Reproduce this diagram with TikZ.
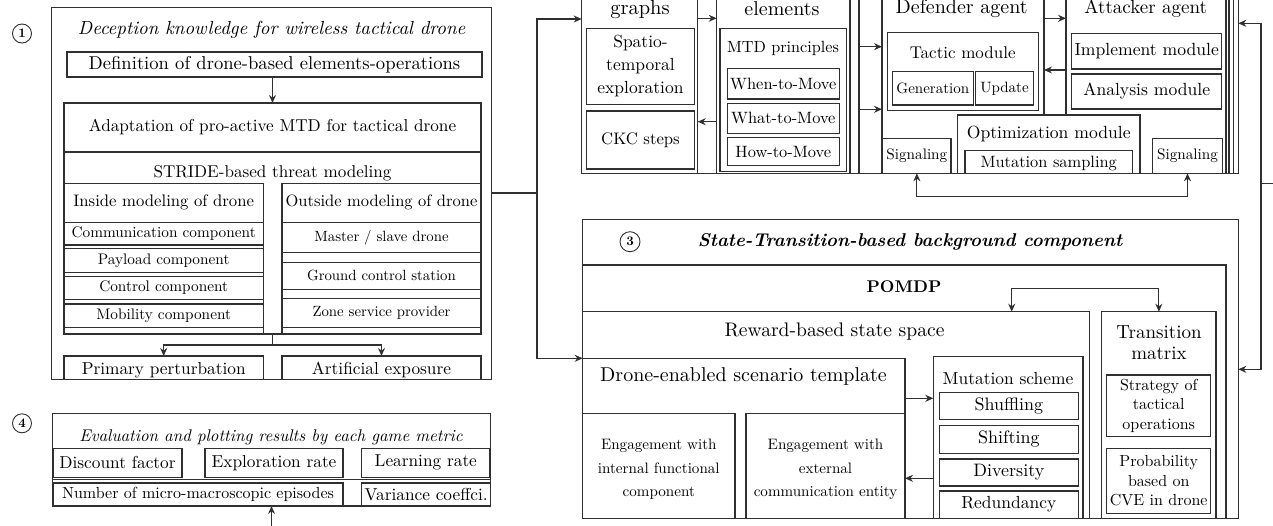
\documentclass[tikz,border=0pt]{standalone}
\usepackage{fontspec}
\setmainfont{lmroman10-regular.otf}[BoldFont=lmroman10-bold.otf, ItalicFont=lmroman10-italic.otf, BoldItalicFont=lmroman10-bolditalic.otf]
\usetikzlibrary{arrows.meta,calc}
\definecolor{lc}{HTML}{303030}
\newcommand\fsz[2]{\fontsize{#1pt}{#2pt}\selectfont}
\tikzset{
 bxs/.style={draw=lc, line width=1.1pt, inner sep=0pt, outer sep=0pt, rectangle, align=center},
 arr/.style={draw=lc, line width=1.1pt, -{Stealth[length=8pt,width=7pt]}},
 darr/.style={draw=lc, line width=1.1pt, {Stealth[length=8pt,width=7pt]}-{Stealth[length=8pt,width=7pt]}},
 ln/.style={draw=lc, line width=1.1pt},
 lbl/.style={inner sep=0pt, align=center, text=black},
 num/.style={circle, draw=lc, line width=0.9pt, minimum size=19pt, inner sep=0pt, font=\fsz{13}{13}\bfseries},
}
\newcommand\bx[7][]{\node[bxs,#1,minimum width={(#5)-(#3)},minimum height={(#6)-(#4)},anchor=north west] (#2) at (#3,#4) {#7};}
\begin{document}
\begin{tikzpicture}[x=1pt,y=-1pt]
\path[use as bounding box] (0,0) rectangle (1273,525);
\clip (0,0) rectangle (1273,525);
% ================= Section 1 =================
\node[num] (c1) at (22,33.5) {1};
\bx{s1}{51.7}{7.3}{491.7}{379.3}{}
\node[lbl, font=\fsz{18.9}{20}\itshape] (t1) at (271.7,30) {Deception knowledge for wireless tactical drone};
\bx[font=\fsz{18.6}{20}]{defn}{67}{52}{482}{77}{Definition of drone-based elements-operations}
\bx[font=\fsz{17.2}{20}]{adapt}{64}{103}{481}{152}{Adaptation of pro-active MTD for tactical drone}
\bx{stride}{64}{152}{481}{334}{}
\node[lbl, font=\fsz{17.1}{20}] (stridet) at (272.5,173) {STRIDE-based threat modeling};
\bx{incol}{64}{183.3}{263.4}{334}{}
\bx[font=\fsz{16.7}{20}]{inhead}{64}{183.3}{263.4}{222.3}{Inside modeling of drone}
\bx[font=\fsz{15.3}{18}]{comm}{64}{222.3}{263.4}{245}{Communication component}
\bx[font=\fsz{15.3}{18}]{pay}{64}{248.3}{263.4}{272.7}{Payload component}
\bx[font=\fsz{15.3}{18}]{ctrl}{64}{276.7}{263.4}{299.3}{Control component}
\bx[font=\fsz{15.3}{18}]{mob}{64}{304}{263.4}{327.3}{Mobility component}
\bx{outcol}{282}{183.3}{481}{334}{}
\bx[font=\fsz{16.5}{20}]{outhead}{282}{183.3}{481}{222.3}{Outside modeling of drone}
\bx[font=\fsz{14.8}{18}]{master}{282}{222.3}{481}{252.7}{Master / slave drone}
\bx[font=\fsz{14.8}{18}]{gcs}{282}{262.3}{481}{289.3}{Ground control station}
\bx[font=\fsz{14.8}{18}]{zone}{282}{298.3}{481}{327.3}{Zone service provider}
\bx{prim}{64}{356}{263.4}{379.3}{}
\bx{art}{282}{356}{481}{379.3}{}
\node[lbl, font=\fsz{17.3}{20}] (primt) at (163.7,370) {Primary perturbation};
\node[lbl, font=\fsz{17.3}{20}] (artt) at (381.5,370) {Artificial exposure};
\draw[arr] (defn.south -| adapt.north) -- (adapt.north);
\coordinate (jn) at (272.5,345);
\draw[ln] (stride.south) -- (jn);
\draw[arr] (jn) -| (prim.north);
\draw[arr] (jn) -| (art.north);
% ================= Section 2 =================
\bx{s2}{581.7}{-5}{1238.3}{173.3}{}
\bx{gp}{581.7}{-5}{697.7}{173.3}{}
\node[lbl, font=\fsz{20.5}{22}] (gpt) at (640,9) {graphs};
\bx[font=\fsz{17.5}{23}]{spat}{586.7}{28.3}{694.3}{104.3}{Spatio-\\temporal\\exploration}
\bx[font=\fsz{16.7}{20}]{ckc}{586.7}{111}{694.3}{169}{CKC steps}
\bx{ep}{716.7}{-5}{850}{173.3}{}
\node[lbl, font=\fsz{20}{22}] (ept) at (782,9) {elements};
\bx{mtd}{720}{28.3}{846.7}{171.7}{}
\node[lbl, font=\fsz{16.2}{20}] (mtdt) at (783,48.3) {MTD principles};
\bx[font=\fsz{16.4}{20}]{when}{727.3}{68.3}{839.3}{99}{When-to-Move}
\bx[font=\fsz{16.4}{20}]{what}{727.3}{103.3}{839.3}{133.3}{What-to-Move}
\bx[font=\fsz{16.4}{20}]{how}{727.3}{137.7}{839.3}{165.7}{How-to-Move}
\draw[arr] (gp.east |- 0,18.3) -- (ep.west |- 0,18.3);
\draw[arr] (ep.west |- 0,121.7) -- (gp.east |- 0,121.7);
\bx{ag}{859}{-5}{1238.3}{173.3}{}
\bx{agA}{882}{-5}{1233.3}{173.3}{}
\bx{agB}{882}{-5}{1229}{173.3}{}
\bx{dp}{882}{-5}{1044}{173.3}{}
\bx{ap}{1066}{-5}{1226}{173.3}{}
\node[lbl, font=\fsz{20}{22}] (dpt) at (961.7,9) {Defender agent};
\node[lbl, font=\fsz{19}{22}] (apt) at (1145.7,9) {Attacker agent};
\bx{tac}{887.3}{32.7}{1038.3}{110.7}{}
\node[lbl, font=\fsz{17}{20}] (tact) at (962.7,52.7) {Tactic module};
\bx[font=\fsz{15}{18}]{gen}{892.3}{71.7}{973.3}{105}{Generation}
\bx[font=\fsz{15}{18}]{upd}{975.7}{71.7}{1033.3}{105}{Update}
\bx[font=\fsz{17.6}{20}]{impl}{1071.7}{33.3}{1221.7}{69}{Implement module}
\bx[font=\fsz{17.6}{20}]{anal}{1071.7}{74}{1221.7}{109}{Analysis module}
\bx[fill=white]{opt}{957.3}{115}{1140}{173.3}{}
\node[lbl, font=\fsz{17.6}{20}] (optt) at (1048.7,134) {Optimization module};
\bx{mut}{965}{150.7}{1132.3}{173.3}{}
\node[lbl, font=\fsz{16.4}{20}] (mutt) at (1048.7,163.5) {Mutation sampling};
\bx[font=\fsz{15.2}{18}]{sigL}{882.7}{138.3}{951}{173.3}{Signaling}
\bx[font=\fsz{15.2}{18}]{sigR}{1152.7}{138.3}{1222.3}{173.3}{Signaling}
\draw[arr] (dp.east |- 0,18.3) -- (ap.west |- 0,18.3);
\draw[arr] (ap.west |- 0,70) -- (dp.east |- 0,70);
\draw[arr] (ag.west |- 0,46.7) -- (dp.west |- 0,46.7);
\draw[arr] (ag.west |- 0,109.3) -- (dp.west |- 0,109.3);
\draw[darr] (sigL.south) -- ++(0,23.4) -| (sigR.south);
% ================= connectors between sections =================
\coordinate (v1) at (537,193);
\draw[ln] (s1.east |- v1) -- (v1);
\draw[arr] (v1) |- (gp.west |- 0,19);
% ================= Section 3 =================
\bx{s3}{582.7}{219.3}{1238.3}{518.3}{}
\node[num, minimum size=20pt] (c3) at (630,241.7) {3};
\node[lbl, font=\fsz{18.5}{20}\bfseries\itshape] (t3) at (910,241.7) {State-Transition-based background component};
\bx{pomdp}{582.7}{265}{1226}{518.3}{}
\node[lbl, font=\fsz{17}{20}\bfseries] (pomdpt) at (904,286.7) {POMDP};
\bx{rew}{582.7}{311.7}{1089.3}{518.3}{}
\node[lbl, font=\fsz{19.6}{22}] (rewt) at (834.5,331.7) {Reward-based state space};
\bx{tm}{1101.7}{311.7}{1216}{518.3}{}
\node[lbl, font=\fsz{19}{21.6}] (tmt) at (1159,342.5) {Transition\\matrix};
\bx[font=\fsz{16}{19.2}]{strat}{1106.7}{375}{1210.7}{436.7}{Strategy of\\tactical\\operations}
\bx[font=\fsz{16}{19.5}]{prob}{1106.7}{448.3}{1210.7}{513.3}{Probability\\based on\\CVE in drone}
\draw[darr] ([xshift=429pt]rew.north west) -- ++(0,-23.4) -| (tm.north);
\bx{drone}{582.7}{358.3}{905}{518.3}{}
\node[lbl, font=\fsz{20}{22}] (dronet) at (743.5,376.7) {Drone-enabled scenario template};
\bx{eint}{582.7}{413.3}{735}{518.3}{}
\bx{eext}{746}{413.3}{905}{518.3}{}
\node[lbl, font=\fsz{15.1}{23.6}] (eintt) at (658.8,469.5) {Engagement with\\internal functional\\component};
\node[lbl, font=\fsz{15.1}{23.6}] (eextt) at (825.5,469.5) {Engagement with\\external\\communication entity};
\bx{msch}{933.3}{356.7}{1083}{518.3}{}
\node[lbl, font=\fsz{17.4}{20}] (mscht) at (1008,378.3) {Mutation scheme};
\bx[font=\fsz{18}{20}]{shuf}{939.3}{392.3}{1078.3}{419.3}{Shuffling}
\bx[font=\fsz{18}{20}]{shif}{939.3}{425.7}{1078.3}{453.3}{Shifting}
\bx[font=\fsz{18}{20}]{divs}{939.3}{459}{1078.3}{486}{Diversity}
\bx[font=\fsz{17.5}{20}]{redu}{939.3}{491}{1078.3}{518.3}{Redundancy}
\draw[arr] (drone.east |- 0,398.3) -- (msch.west |- 0,398.3);
\draw[arr] (msch.west |- 0,478.3) -- (drone.east |- 0,478.3);
\draw[arr] (v1) |- (drone.north west);
% right connector
\coordinate (rv) at (1261,183.3);
\coordinate (rstub) at (1280,183.3);
\draw[arr] (rv) |- (ag.east |- 0,23.3);
\draw[arr] (rv) |- (s3.east |- 0,369.3);
\draw[ln] (rv) -- (rstub);
% ================= Section 4 =================
\node[num] (c4) at (22,423.3) {4};
\bx{s4}{52.3}{413.3}{490.7}{506}{}
\node[lbl, font=\fsz{16.9}{20}\itshape] (t4) at (271,437) {Evaluation and plotting results by each game metric};
\bx{row2}{52.3}{479.5}{490.7}{506}{}
\bx[font=\fsz{17.3}{20}]{disc}{53}{448.3}{182}{477.3}{Discount factor}
\bx[font=\fsz{17.3}{20}]{expl}{205}{448.3}{343}{477.3}{Exploration rate}
\bx[font=\fsz{17.3}{20}]{learn}{361.6}{448.3}{490}{477.3}{Learning rate}
\bx[font=\fsz{16}{20}]{numep}{53}{483}{343}{506}{Number of micro-macroscopic episodes}
\bx[font=\fsz{17.3}{20}]{vari}{361.6}{483}{490.7}{506}{Variance coeffci.}
\coordinate (bot) at (271.5,530);
\draw[arr] (bot) -- (s4.south);
\end{tikzpicture}
\end{document}
